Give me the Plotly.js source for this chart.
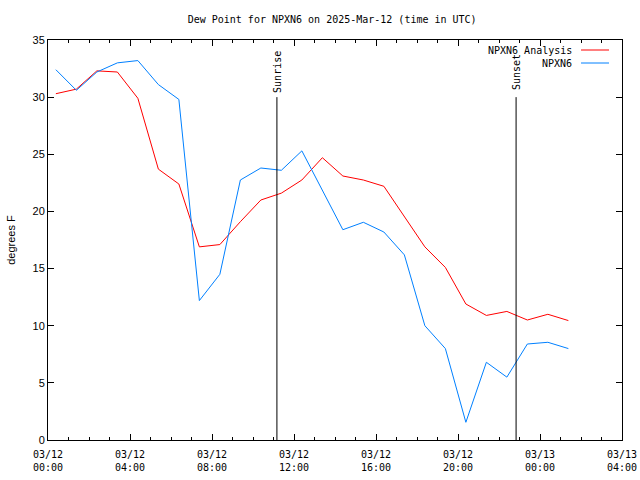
<!DOCTYPE html>
<html>
<head>
<meta charset="utf-8">
<script src="https://cdn.plot.ly/plotly-3.0.1.min.js"></script>
<style>html,body{margin:0;padding:0;background:#fff;}#chart{width:640px;height:480px;}</style>
</head>
<body>
<div id="chart"></div>
<script>
const times = [
  "2025-03-12 00:23","2025-03-12 01:23","2025-03-12 02:23","2025-03-12 03:23",
  "2025-03-12 04:23","2025-03-12 05:23","2025-03-12 06:23","2025-03-12 07:23",
  "2025-03-12 08:23","2025-03-12 09:23","2025-03-12 10:23","2025-03-12 11:23",
  "2025-03-12 12:23","2025-03-12 13:23","2025-03-12 14:23","2025-03-12 15:23",
  "2025-03-12 16:23","2025-03-12 17:23","2025-03-12 18:23","2025-03-12 19:23",
  "2025-03-12 20:23","2025-03-12 21:23","2025-03-12 22:23","2025-03-12 23:23",
  "2025-03-13 00:23","2025-03-13 01:23"
];
const analysis = [30.3, 30.7, 32.3, 32.2, 29.9, 23.7, 22.4, 16.9, 17.1, 19.1, 21.0, 21.6, 22.75,
  24.7, 23.1, 22.75, 22.2, 19.5, 16.9, 15.1, 11.9, 10.9, 11.25, 10.5, 11.0, 10.45];
const observed = [32.4, 30.6, 32.2, 33.0, 33.2, 31.1, 29.8, 12.2, 14.5, 22.75, 23.8, 23.6, 25.3,
  21.8, 18.4, 19.05, 18.2, 16.2, 10.0, 8.0, 1.55, 6.8, 5.5, 8.4, 8.55, 8.0];
const seriesNames = ["NPXN6 Analysis", "NPXN6"];
const sunEvents = ["Sunrise", "Sunset"];
const sunTimes = ["2025-03-12 11:10", "2025-03-12 22:50"];
const sunLineTop = 30;
const sunLabelY = 32.2;
const xTickVals = ["2025-03-12 00:00","2025-03-12 04:00","2025-03-12 08:00","2025-03-12 12:00",
  "2025-03-12 16:00","2025-03-12 20:00","2025-03-13 00:00","2025-03-13 04:00"];
const xTickText = ["03/12<br>00:00","03/12<br>04:00","03/12<br>08:00","03/12<br>12:00",
  "03/12<br>16:00","03/12<br>20:00","03/13<br>00:00","03/13<br>04:00"];
const yTickVals = [0, 5, 10, 15, 20, 25, 30, 35];

const mono = "DejaVu Sans Mono, Liberation Mono, monospace";
const sans = "Liberation Sans, Arial, sans-serif";
const colors = ["#ff0000", "#0080ff"];

const traces = [
  {x: times, y: analysis, type: "scatter", mode: "lines", name: seriesNames[0],
   line: {color: colors[0], width: 1}},
  {x: times, y: observed, type: "scatter", mode: "lines", name: seriesNames[1],
   line: {color: colors[1], width: 1}}
];

const shapes = sunTimes.map(t => ({type: "line", xref: "x", yref: "y", x0: t, x1: t, y0: 0, y1: sunLineTop,
  line: {color: "#000", width: 1}}));
const annotations = sunEvents.map((s, i) => ({x: sunTimes[i], y: sunLabelY, xref: "x", yref: "y",
  text: s, showarrow: false, textangle: -90, xanchor: "center", yanchor: "middle",
  font: {family: mono, size: 10, color: "#000"}}));

// legend drawn as annotations + shapes
const legY = [0.975, 0.9425];
seriesNames.forEach((n, i) => {
  annotations.push({x: 0.9164, y: legY[i], xref: "paper", yref: "paper", text: n, showarrow: false,
    xanchor: "right", yanchor: "middle", font: {family: mono, size: 10, color: "#000"}});
  shapes.push({type: "line", xref: "paper", yref: "paper", x0: 0.9286, x1: 0.9774, y0: legY[i], y1: legY[i],
    line: {color: colors[i], width: 1}});
});

const layout = {
  width: 640, height: 480,
  margin: {l: 48, r: 18, t: 40, b: 40},
  paper_bgcolor: "#fff", plot_bgcolor: "#fff",
  showlegend: false,
  title: {text: "Dew Point for NPXN6 on 2025-Mar-12 (time in UTC)", x: 0.519, xanchor: "center",
    y: 0.96, yanchor: "middle", font: {family: mono, size: 10, color: "#000"}},
  xaxis: {type: "date", range: ["2025-03-12 00:00", "2025-03-13 04:00"],
    tickmode: "array", tickvals: xTickVals, ticktext: xTickText,
    ticks: "inside", ticklen: 6, tickcolor: "#000", tickwidth: 1, ticklabelstandoff: 5,
    minor: {dtick: 3600000, ticks: "inside", ticklen: 3, tickcolor: "#000", showgrid: false},
    showgrid: false, zeroline: false, showline: true, linecolor: "#000", linewidth: 1, mirror: "allticks",
    tickfont: {family: mono, size: 10, color: "#000"}},
  yaxis: {range: [0, 35], tickmode: "array", tickvals: yTickVals,
    ticks: "inside", ticklen: 6, tickcolor: "#000", tickwidth: 1,
    showgrid: false, zeroline: false, showline: true, linecolor: "#000", linewidth: 1, mirror: "allticks",
    tickfont: {family: sans, size: 11, color: "#000"},
    title: {text: "degrees F", font: {family: sans, size: 11, color: "#000"}, standoff: 14}},
  shapes: shapes,
  annotations: annotations
};

Plotly.newPlot("chart", traces, layout, {staticPlot: true, displayModeBar: false});
</script>
</body>
</html>
